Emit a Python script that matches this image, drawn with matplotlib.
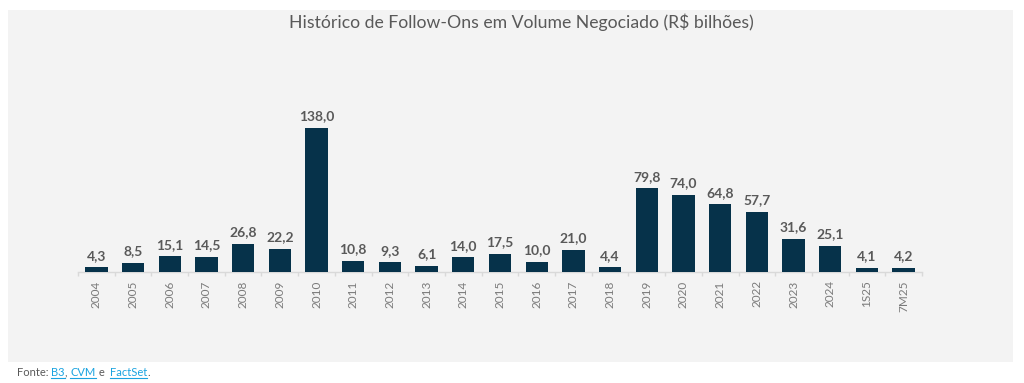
import matplotlib
matplotlib.use("Agg")
import matplotlib.pyplot as plt
from matplotlib.patches import Rectangle
import numpy as np

plt.rcParams['font.family'] = ['Lato', 'DejaVu Sans']

# dados
categorias = ['2004', '2005', '2006', '2007', '2008', '2009', '2010', '2011', '2012',
              '2013', '2014', '2015', '2016', '2017', '2018', '2019', '2020', '2021',
              '2022', '2023', '2024', '1S25', '7M25']
volumes = [4.3, 8.5, 15.1, 14.5, 26.8, 22.2, 138.0, 10.8, 9.3, 6.1, 14.0, 17.5,
           10.0, 21.0, 4.4, 79.8, 74.0, 64.8, 57.7, 31.6, 25.1, 4.1, 4.2]

titulo = "Histórico de Follow-Ons em Volume Negociado (R$ bilhões)"

W, H = 1024, 383
fig = plt.figure(figsize=(W / 100, H / 100), dpi=100)
fig.patch.set_facecolor('white')

# painel cinza de fundo
fig.patches.append(Rectangle((8 / W, 1 - 362 / H), (1013 - 8) / W, (362 - 10) / H,
                             transform=fig.transFigure, facecolor='#f3f3f3',
                             edgecolor='none', zorder=-5))

# eixo: base em y=272px, 138 em y=127.5px
base_px = 272
top_px = 60
escala = (272 - 127.5) / 138.0
ax = fig.add_axes([78 / W, 1 - base_px / H, (922 - 78) / W, (base_px - top_px) / H])
ax.set_zorder(2)
ax.set_facecolor('none')
x = np.arange(len(categorias))
ax.bar(x, volumes, width=0.61, color='#06324a', zorder=3)
ax.set_xlim(-0.5, len(categorias) - 0.5)
ax.set_ylim(0, (base_px - top_px) / escala)

for xi, v in zip(x, volumes):
    ax.annotate(f"{v:.1f}".replace('.', ','), (xi, v), xytext=(0, 4),
                textcoords='offset points', ha='center', va='bottom',
                fontsize=10, fontweight='bold', color='#595959')

for s in ['top', 'right', 'left']:
    ax.spines[s].set_visible(False)
ax.spines['bottom'].set_color('#d9d9d9')
ax.spines['bottom'].set_linewidth(1)
ax.set_yticks([])
ax.set_xticks(x)
ax.set_xticklabels(categorias, rotation=90, fontsize=8.5, color='#7a7a7a')
ax.tick_params(axis='x', which='major', length=0, pad=6)
ax.set_xticks(np.arange(-0.5, len(categorias)), minor=True)
ax.tick_params(axis='x', which='minor', length=3, color='#d9d9d9', width=1)

fig.text(521 / W, 1 - 22 / H, titulo, ha='center', va='center', fontsize=12.7,
         color='#595959')

# rodape com "links"
fig.canvas.draw()
r = fig.canvas.get_renderer()
partes = [("Fonte: ", '#595959', False), ("B3", '#1aa3e0', True), (", ", '#595959', False),
          ("CVM", '#1aa3e0', True), (" e  ", '#595959', False), ("FactSet", '#1aa3e0', True),
          (".", '#595959', False)]
xp = 17
yb = H - 376
for txt, cor, sub in partes:
    t = fig.text(xp / W, yb / H, txt, fontsize=8, color=cor, ha='left', va='baseline')
    bb = t.get_window_extent(renderer=r)
    if sub:
        fig.add_artist(plt.Line2D([bb.x0 / W, bb.x1 / W], [(yb - 2) / H, (yb - 2) / H],
                                  transform=fig.transFigure, color=cor, lw=0.8))
    xp = bb.x1

fig.savefig('out.png', dpi=100, facecolor='white')
